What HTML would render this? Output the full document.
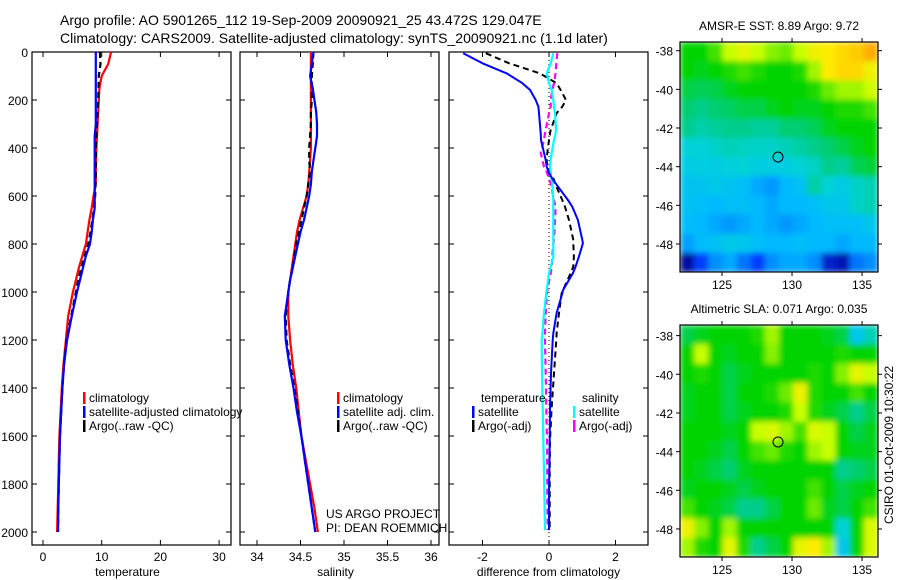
<!DOCTYPE html>
<html><head><meta charset="utf-8">
<style>
html,body{margin:0;padding:0;background:#fff;}
svg{display:block;font-family:"Liberation Sans",sans-serif;}
text{fill:#000;}
</style></head>
<body>
<svg id="fig" width="900" height="580" viewBox="0 0 900 580" xmlns="http://www.w3.org/2000/svg">
<rect width="900" height="580" fill="#fff"/>
<text x="60" y="25" font-size="14">Argo profile: AO 5901265_112 19-Sep-2009 20090921_25 43.472S 129.047E</text>
<text x="60" y="43" font-size="14">Climatology: CARS2009. Satellite-adjusted climatology: synTS_20090921.nc (1.1d later)</text>
<g id="g"></g>
</svg>
<script>
// ---------- data ----------
const depths = [0,50,100,150,200,250,300,350,400,450,500,550,600,650,700,750,800,850,900,950,1000,1100,1200,1300,1400,1500,1600,1700,1800,1900,2000];
const tempClim = [11.6,11.1,10.0,9.6,9.5,9.4,9.3,9.2,9.1,9.05,9.0,9.0,8.6,8.3,7.9,7.6,7.3,6.7,6.1,5.6,5.1,4.3,3.9,3.5,3.2,3.0,2.8,2.7,2.6,2.5,2.4];
const tempSat = [9.0,9.0,9.0,9.0,9.0,9.0,9.0,8.8,8.8,8.8,8.8,8.8,8.8,8.8,8.5,8.3,8.0,7.3,6.8,6.3,5.8,4.9,4.1,3.6,3.3,3.1,2.9,2.8,2.7,2.6,2.55];
const tempArgo = [9.7,9.8,9.5,9.45,9.4,9.3,9.2,9.1,9.0,9.0,9.0,8.95,8.9,8.7,8.4,8.1,7.7,7.1,6.5,6.0,5.6,4.8,4.0,3.6,3.3,3.1,2.9,2.8,2.7,2.6,2.55];
const salClim = [34.62,34.62,34.62,34.62,34.62,34.62,34.62,34.62,34.62,34.61,34.60,34.59,34.57,34.53,34.49,34.46,34.44,34.42,34.40,34.38,34.36,34.36,34.38,34.41,34.45,34.48,34.51,34.56,34.61,34.66,34.70];
const salSat = [34.65,34.63,34.61,34.64,34.66,34.68,34.69,34.69,34.67,34.65,34.63,34.62,34.60,34.57,34.54,34.50,34.47,34.44,34.41,34.38,34.36,34.32,34.33,34.37,34.42,34.46,34.51,34.55,34.59,34.63,34.67];
const salArgo = [34.65,34.64,34.63,34.63,34.63,34.62,34.62,34.61,34.60,34.60,34.61,34.59,34.57,34.54,34.51,34.48,34.45,34.43,34.41,34.38,34.36,34.33,34.34,34.38,34.43,34.47,34.51,34.55,34.59,34.63,34.67];
const dDepths = [5,47,89,130,158,200,228,255,325,339,367,420,450,478,505,533,547,617,645,700,783,797,853,894,922,992,1006,1088,1172,1200,1339,1478,1617,1756,1825,1992];
const dTempSat = [-2.58,-2.0,-1.27,-0.8,-0.57,-0.4,-0.32,-0.3,-0.26,-0.25,-0.24,-0.15,-0.1,-0.07,0.0,0.12,0.2,0.57,0.7,0.87,1.0,1.02,0.9,0.8,0.72,0.42,0.4,0.23,0.13,0.11,0.06,0.03,0.02,0.01,0.0,0.0];
const dTempArgo = [-1.9,-1.2,-0.27,0.23,0.35,0.51,0.4,0.23,0.05,0.03,0.0,-0.05,-0.07,-0.05,0.05,0.15,0.18,0.4,0.48,0.6,0.73,0.73,0.75,0.73,0.65,0.42,0.38,0.3,0.23,0.22,0.15,0.08,0.03,0.02,0.02,0.02];
const dSalSat = [0.13,0.05,-0.07,0.0,0.08,0.13,0.15,0.18,0.21,0.2,0.15,0.08,0.05,0.03,0.05,0.08,0.1,0.13,0.13,0.13,0.13,0.13,0.13,0.05,0.0,-0.07,-0.08,-0.15,-0.2,-0.22,-0.21,-0.19,-0.17,-0.15,-0.14,-0.12];
const dSalArgo = [0.25,0.22,0.2,0.15,0.1,0.05,0.05,0.0,-0.1,-0.12,-0.15,-0.25,-0.2,-0.15,-0.05,0.0,0.05,0.15,0.2,0.18,0.15,0.13,0.1,0.08,0.05,-0.05,-0.06,-0.1,-0.12,-0.12,-0.1,-0.08,-0.06,-0.05,-0.05,-0.04];
const depthTicks = [0,200,400,600,800,1000,1200,1400,1600,1800,2000];
const tempTicks = [0,10,20,30];
const salTicks = [34,34.5,35,35.5,36];
const diffTicks = [-2,0,2];
const lonTicks = [125,130,135];
const latTicks = [-38,-40,-42,-44,-46,-48];
const sstGrid = [
[0.6,0.6,0.65,0.75,0.8,0.75,0.7,0.68,0.75,0.82,0.85,0.88,0.9,0.95],
[0.6,0.58,0.6,0.62,0.65,0.62,0.6,0.6,0.62,0.72,0.85,0.88,0.88,0.82],
[0.55,0.54,0.55,0.58,0.6,0.6,0.6,0.6,0.6,0.62,0.68,0.72,0.72,0.76],
[0.52,0.5,0.52,0.53,0.55,0.55,0.58,0.6,0.58,0.58,0.6,0.62,0.62,0.65],
[0.5,0.46,0.48,0.5,0.5,0.48,0.48,0.52,0.52,0.54,0.58,0.6,0.6,0.6],
[0.4,0.4,0.42,0.44,0.43,0.42,0.42,0.44,0.47,0.5,0.52,0.55,0.58,0.6],
[0.37,0.38,0.37,0.39,0.4,0.38,0.38,0.38,0.4,0.43,0.5,0.48,0.54,0.56],
[0.34,0.34,0.36,0.34,0.32,0.28,0.26,0.3,0.33,0.47,0.4,0.37,0.42,0.45],
[0.33,0.32,0.3,0.32,0.32,0.3,0.28,0.3,0.3,0.32,0.35,0.35,0.42,0.45],
[0.31,0.3,0.28,0.26,0.28,0.3,0.28,0.26,0.28,0.3,0.32,0.32,0.32,0.35],
[0.27,0.31,0.33,0.36,0.35,0.32,0.3,0.3,0.32,0.3,0.3,0.28,0.3,0.3],
[0.02,0.15,0.25,0.28,0.22,0.15,0.25,0.28,0.28,0.25,0.08,0.05,0.22,0.25]];
const slaGrid = [
[0.55,0.58,0.6,0.6,0.6,0.62,0.72,0.6,0.6,0.6,0.58,0.55,0.35,0.45],
[0.6,0.75,0.6,0.58,0.6,0.6,0.7,0.6,0.6,0.6,0.6,0.62,0.6,0.6],
[0.6,0.62,0.6,0.55,0.58,0.6,0.6,0.6,0.6,0.62,0.6,0.7,0.8,0.75],
[0.58,0.6,0.6,0.55,0.6,0.6,0.62,0.68,0.82,0.62,0.6,0.6,0.65,0.6],
[0.58,0.6,0.6,0.55,0.58,0.6,0.6,0.62,0.75,0.62,0.58,0.55,0.5,0.55],
[0.6,0.6,0.6,0.58,0.6,0.75,0.78,0.72,0.65,0.78,0.75,0.6,0.55,0.58],
[0.6,0.6,0.58,0.55,0.6,0.65,0.68,0.62,0.6,0.72,0.75,0.6,0.58,0.58],
[0.6,0.58,0.55,0.52,0.58,0.6,0.6,0.6,0.6,0.6,0.6,0.5,0.52,0.55],
[0.58,0.6,0.6,0.58,0.55,0.58,0.6,0.6,0.6,0.65,0.6,0.55,0.58,0.6],
[0.65,0.6,0.58,0.55,0.5,0.5,0.55,0.6,0.6,0.68,0.58,0.55,0.6,0.65],
[0.82,0.7,0.6,0.72,0.6,0.6,0.6,0.6,0.6,0.6,0.6,0.4,0.6,0.78],
[0.72,0.62,0.6,0.8,0.62,0.5,0.55,0.6,0.8,0.85,0.72,0.35,0.6,0.78]];
const argoLon = 129.0, argoLat = -43.5;

// ---------- helpers ----------
const NS='http://www.w3.org/2000/svg';
const G=document.getElementById('g');
function mk(tag,attrs,parent){const e=document.createElementNS(NS,tag);for(const k in attrs)e.setAttribute(k,attrs[k]);(parent||G).appendChild(e);return e;}
function txt(x,y,s,size,anchor,parent){const t=mk('text',{x:x,y:y,'font-size':size||12,'text-anchor':anchor||'start'},parent);t.textContent=s;return t;}
const yD = d => 52 + d*0.24;
const PT=52, PB=545;
const panels = [
 {x0:32,x1:231,f:v=>43+v*5.87,ticks:tempTicks,label:'temperature',name:'temperature-panel'},
 {x0:240,x1:439,f:v=>257+(v-34)*87,ticks:salTicks,label:'salinity',name:'salinity-panel'},
 {x0:449,x1:648,f:v=>549+v*33.25,ticks:diffTicks,label:'difference from climatology',name:'difference-panel'}];

panels.forEach((p,i)=>{
  const g=mk('g',{});
  
  
  const fr=mk('rect',{x:p.x0,y:PT,width:p.x1-p.x0,height:PB-PT,fill:'none',stroke:'#000','stroke-width':1.2},g);
  
  
  depthTicks.forEach(d=>{
    mk('line',{x1:p.x0,x2:p.x0+5,y1:yD(d),y2:yD(d),stroke:'#000'},g);
    mk('line',{x1:p.x1,x2:p.x1-5,y1:yD(d),y2:yD(d),stroke:'#000'},g);
    if(i===0){const t=txt(28,yD(d)+5,String(d),12,'end',g);
      
      }
  });
  p.ticks.forEach(v=>{
    const x=p.f(v);
    mk('line',{x1:x,x2:x,y1:PT,y2:PT+5,stroke:'#000'},g);
    mk('line',{x1:x,x2:x,y1:PB,y2:PB-5,stroke:'#000'},g);
    const t=txt(x,561,String(v),12,'middle',g);
    
    
  });
  const xl=txt((p.x0+p.x1)/2-(i==2?0:4),576,p.label,12,'middle',g);
  
  
});
const zl=mk('line',{x1:panels[2].f(0),x2:panels[2].f(0),y1:PT,y2:PB,stroke:'#000','stroke-dasharray':'1,3'});



function line(p,xs,ds,color,dash,w,name){
  const pts=xs.map((v,k)=>p.f(v).toFixed(1)+','+yD(ds[k]).toFixed(1)).join(' ');
  const a={points:pts,fill:'none',stroke:color,'stroke-width':w||2.2,'stroke-linejoin':'round'};
  if(dash)a['stroke-dasharray']=dash;
  const e=mk('polyline',a);
  
  
}
line(panels[0],tempClim,depths,'#f00',null,2.2,'temp-climatology-line');
line(panels[0],tempArgo,depths,'#000','6,4',2.2,'temp-argo-line');
line(panels[0],tempSat,depths,'#00f',null,2.2,'temp-satellite-line');
line(panels[1],salClim,depths,'#f00',null,2.2,'sal-climatology-line');
line(panels[1],salArgo,depths,'#000','6,4',2.2,'sal-argo-line');
line(panels[1],salSat,depths,'#00f',null,2.2,'sal-satellite-line');
line(panels[2],dTempArgo,dDepths,'#000','6,4',2,'diff-temp-argo-line');
line(panels[2],dSalArgo,dDepths,'#f0f','6,4',2.2,'diff-sal-argo-line');
line(panels[2],dSalSat,dDepths,'#0ff',null,2.2,'diff-sal-satellite-line');
line(panels[2],dTempSat,dDepths,'#00f',null,2,'diff-temp-satellite-line');

function legEntry(x,y,color,label,name){
  const g=mk('g',{});
  
  
  mk('rect',{x:x,y:y-10,width:2.5,height:12,fill:color},g);
  txt(x+6,y,label,12,'start',g);
}
legEntry(83,402,'#f00','climatology','legend-entry-climatology');
legEntry(83,416,'#00f','satellite-adjusted climatology','legend-entry-satellite-adjusted');
legEntry(83,430,'#000','Argo(..raw -QC)','legend-entry-argo');
legEntry(337,402,'#f00','climatology','legend-entry-sal-climatology');
legEntry(337,416,'#00f','satellite adj. clim.','legend-entry-sal-satellite');
legEntry(337,430,'#000','Argo(..raw -QC)','legend-entry-sal-argo');
let t=txt(481,402,'temperature',12);


t=txt(582,402,'salinity',12);


legEntry(472,416,'#00f','satellite','legend-entry-diff-temp-satellite');
legEntry(472,430,'#000','Argo(-adj)','legend-entry-diff-temp-argo');
legEntry(573,416,'#0ff','satellite','legend-entry-diff-sal-satellite');
legEntry(573,430,'#f0f','Argo(-adj)','legend-entry-diff-sal-argo');
t=txt(326,518,'US ARGO PROJECT',12);


t=txt(326,532,'PI: DEAN ROEMMICH',12);



// ---------- maps ----------
const cstops=[[0,[0,0,140]],[0.15,[0,60,255]],[0.3,[0,185,255]],[0.4,[0,210,215]],[0.5,[0,205,140]],[0.6,[0,212,0]],[0.75,[200,255,0]],[0.85,[255,235,0]],[1,[255,140,0]]];
function cmap(v){
  for(let i=1;i<cstops.length;i++){if(v<=cstops[i][0]){const a=cstops[i-1],b=cstops[i];const f=(v-a[0])/(b[0]-a[0]);
    const c=a[1].map((q,k)=>Math.round(q+(b[1][k]-q)*f));return 'rgb('+c.join(',')+')';}}
  return 'rgb(255,140,0)';
}
function drawMap(grid,top,bottom,latTop,latBot,title,name,fid){
  const L=680,R=878,lon0=122,lon1=136.14;
  const xL=lon=>L+(lon-lon0)*(R-L)/(lon1-lon0);
  const yL=lat=>top+(latTop-lat)*(bottom-top)/(latTop-latBot);
  const g=mk('g',{});
  
  
  const f=mk('filter',{id:fid,filterUnits:'userSpaceOnUse',x:L,y:top,width:R-L,height:bottom-top},g);
  mk('feGaussianBlur',{stdDeviation:3,edgeMode:'duplicate'},f);
  const cg=mk('g',{filter:'url(#'+fid+')'},g);
  const nr=grid.length,nc=grid[0].length;
  const ch=(bottom-top)/nr, cw=(R-L)/nc;
  grid.forEach((row,r)=>row.forEach((v,c)=>{
    const cell=mk('rect',{x:L+c*cw,y:top+r*ch,width:cw+0.6,height:ch+0.6,fill:cmap(v)},cg);
    
    
  }));
  mk('rect',{x:L,y:top,width:R-L,height:bottom-top,fill:'none',stroke:'#000','stroke-width':1.2},g);
  lonTicks.forEach(lon=>{const x=xL(lon);
    mk('line',{x1:x,x2:x,y1:top,y2:top-4,stroke:'#000'},g);
    mk('line',{x1:x,x2:x,y1:bottom,y2:bottom+4,stroke:'#000'},g);
    const tl=txt(x,bottom+17,String(lon),12,'middle',g);
    
    });
  latTicks.forEach(lat=>{const y=yL(lat);
    mk('line',{x1:L,x2:L-4,y1:y,y2:y,stroke:'#000'},g);
    mk('line',{x1:R,x2:R+4,y1:y,y2:y,stroke:'#000'},g);
    const tl=txt(673,y+5,String(lat),12,'end',g);
    
    });
  const mk1=mk('circle',{cx:xL(argoLon),cy:yL(argoLat),r:5,fill:'none',stroke:'#000','stroke-width':1},g);
  
  
  const tt=txt((L+R)/2,top-12,title,12,'middle',g);
  
  
}
drawMap(sstGrid,42,272,-37.55,-49.45,'AMSR-E SST: 8.89 Argo: 9.72','sst-map','blurA');
drawMap(slaGrid,325,557,-37.45,-49.45,'Altimetric SLA: 0.071 Argo: 0.035','sla-map','blurB');
t=txt(0,0,'CSIRO 01-Oct-2009 10:30:22',12,'middle');
t.setAttribute('transform','translate(893,445) rotate(-90)');


</script>
</body></html>
